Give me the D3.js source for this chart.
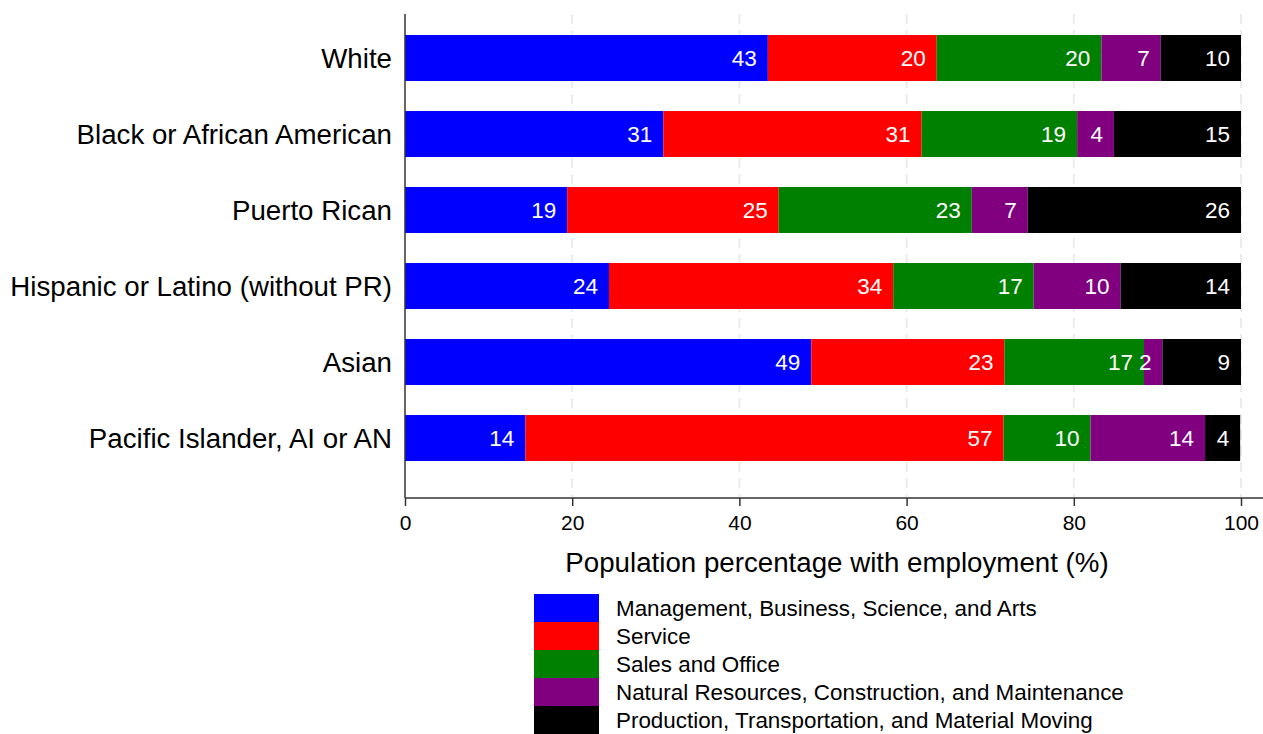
<!DOCTYPE html>
<html>
<head>
<meta charset="utf-8">
<script src="https://cdn.jsdelivr.net/npm/d3@7"></script>
<style>
  body { margin: 0; background: #fff; }
  svg { display: block; font-family: "Liberation Sans", Arial, sans-serif; }
</style>
</head>
<body>
<svg width="1263" height="734"></svg>
<script>
// groups, top to bottom
const groups = ["White", "Black or African American", "Puerto Rican",
  "Hispanic or Latino (without PR)", "Asian", "Pacific Islander, AI or AN"];

const occupations = [
  "Management, Business, Science, and Arts",
  "Service",
  "Sales and Office",
  "Natural Resources, Construction, and Maintenance",
  "Production, Transportation, and Material Moving"
];

// one array per occupation, same order as groups
const management = [43.4, 30.9, 19.4, 24.4, 48.6, 14.4];
const service    = [20.2, 30.9, 25.3, 34.0, 23.1, 57.2];
const sales      = [19.7, 18.6, 23.1, 16.8, 16.7, 10.4];
const natural    = [7.1, 4.4, 6.7, 10.4, 2.2, 13.7];
const production = [9.6, 15.2, 25.5, 14.4, 9.4, 4.2];

const xTicks = [0, 20, 40, 60, 80, 100];
const colors = ["#0000ff", "#ff0000", "#008000", "#800080", "#000000"];

const svg = d3.select("svg");

const x = d3.scaleLinear().domain([0, 100]).range([405, 1241]);
const y = d3.scaleBand().domain(groups).range([20, 476])
  .paddingInner(0.395).paddingOuter(0.1975);
const color = d3.scaleOrdinal().domain(occupations).range(colors);

const rows = groups.map((g, i) => ({
  group: g,
  [occupations[0]]: management[i],
  [occupations[1]]: service[i],
  [occupations[2]]: sales[i],
  [occupations[3]]: natural[i],
  [occupations[4]]: production[i]
}));

const stacked = d3.stack().keys(occupations)(rows);

// grid
svg.append("g")
  .selectAll("line")
  .data(xTicks.filter(t => t > 0))
  .enter()
  .append("line")
  .attr("x1", d => x(d)).attr("x2", d => x(d))
  .attr("y1", 14).attr("y2", 498)
  .attr("stroke", "#ebebeb")
  .attr("stroke-width", 2)
  .attr("stroke-dasharray", "10,6");

// bars
const layers = svg.append("g")
  .selectAll("g")
  .data(stacked)
  .enter()
  .append("g")
  .attr("fill", d => color(d.key));

layers.selectAll("rect")
  .data(d => d)
  .enter()
  .append("rect")
  .attr("x", d => x(d[0]))
  .attr("y", d => y(d.data.group))
  .attr("width", d => x(d[1]) - x(d[0]))
  .attr("height", y.bandwidth());

// value labels
layers.selectAll("text")
  .data(d => d)
  .enter()
  .append("text")
  .attr("x", d => x(d[1]) - 11)
  .attr("y", d => y(d.data.group) + y.bandwidth() / 2)
  .attr("dy", "0.36em")
  .attr("text-anchor", "end")
  .attr("fill", "#fff")
  .style("font-size", "22.5px")
  .text(d => Math.round(d[1] - d[0]));

// x axis
const xAxis = svg.append("g")
  .attr("transform", "translate(0,498)")
  .call(d3.axisBottom(x).tickValues(xTicks).tickSize(8).tickSizeOuter(0).tickPadding(9));
xAxis.select(".domain").attr("stroke", "#333").attr("stroke-width", 1.5)
  .attr("d", "M405,0H1263");
xAxis.selectAll(".tick line").attr("stroke", "#333").attr("stroke-width", 1.5);
xAxis.selectAll(".tick text").style("font-size", "21px").attr("fill", "#000");

// y axis
svg.append("line")
  .attr("x1", 405).attr("x2", 405)
  .attr("y1", 14).attr("y2", 498)
  .attr("stroke", "#333").attr("stroke-width", 1.5);

svg.append("g")
  .selectAll("text")
  .data(groups)
  .enter()
  .append("text")
  .attr("x", 392)
  .attr("y", d => y(d) + y.bandwidth() / 2)
  .attr("dy", "0.36em")
  .attr("text-anchor", "end")
  .style("font-size", "27.7px")
  .text(d => d);

svg.append("text")
  .attr("x", 837)
  .attr("y", 572)
  .attr("text-anchor", "middle")
  .style("font-size", "27.7px")
  .text("Population percentage with employment (%)");

// legend
const legend = svg.append("g")
  .selectAll("g")
  .data(occupations)
  .enter()
  .append("g")
  .attr("transform", (d, i) => `translate(534,${594 + i * 28})`);

legend.append("rect")
  .attr("width", 65).attr("height", 28)
  .attr("fill", d => color(d));

legend.append("text")
  .attr("x", 82)
  .attr("y", 14)
  .attr("dy", "0.36em")
  .style("font-size", "22.4px")
  .text(d => d);
</script>
</body>
</html>
